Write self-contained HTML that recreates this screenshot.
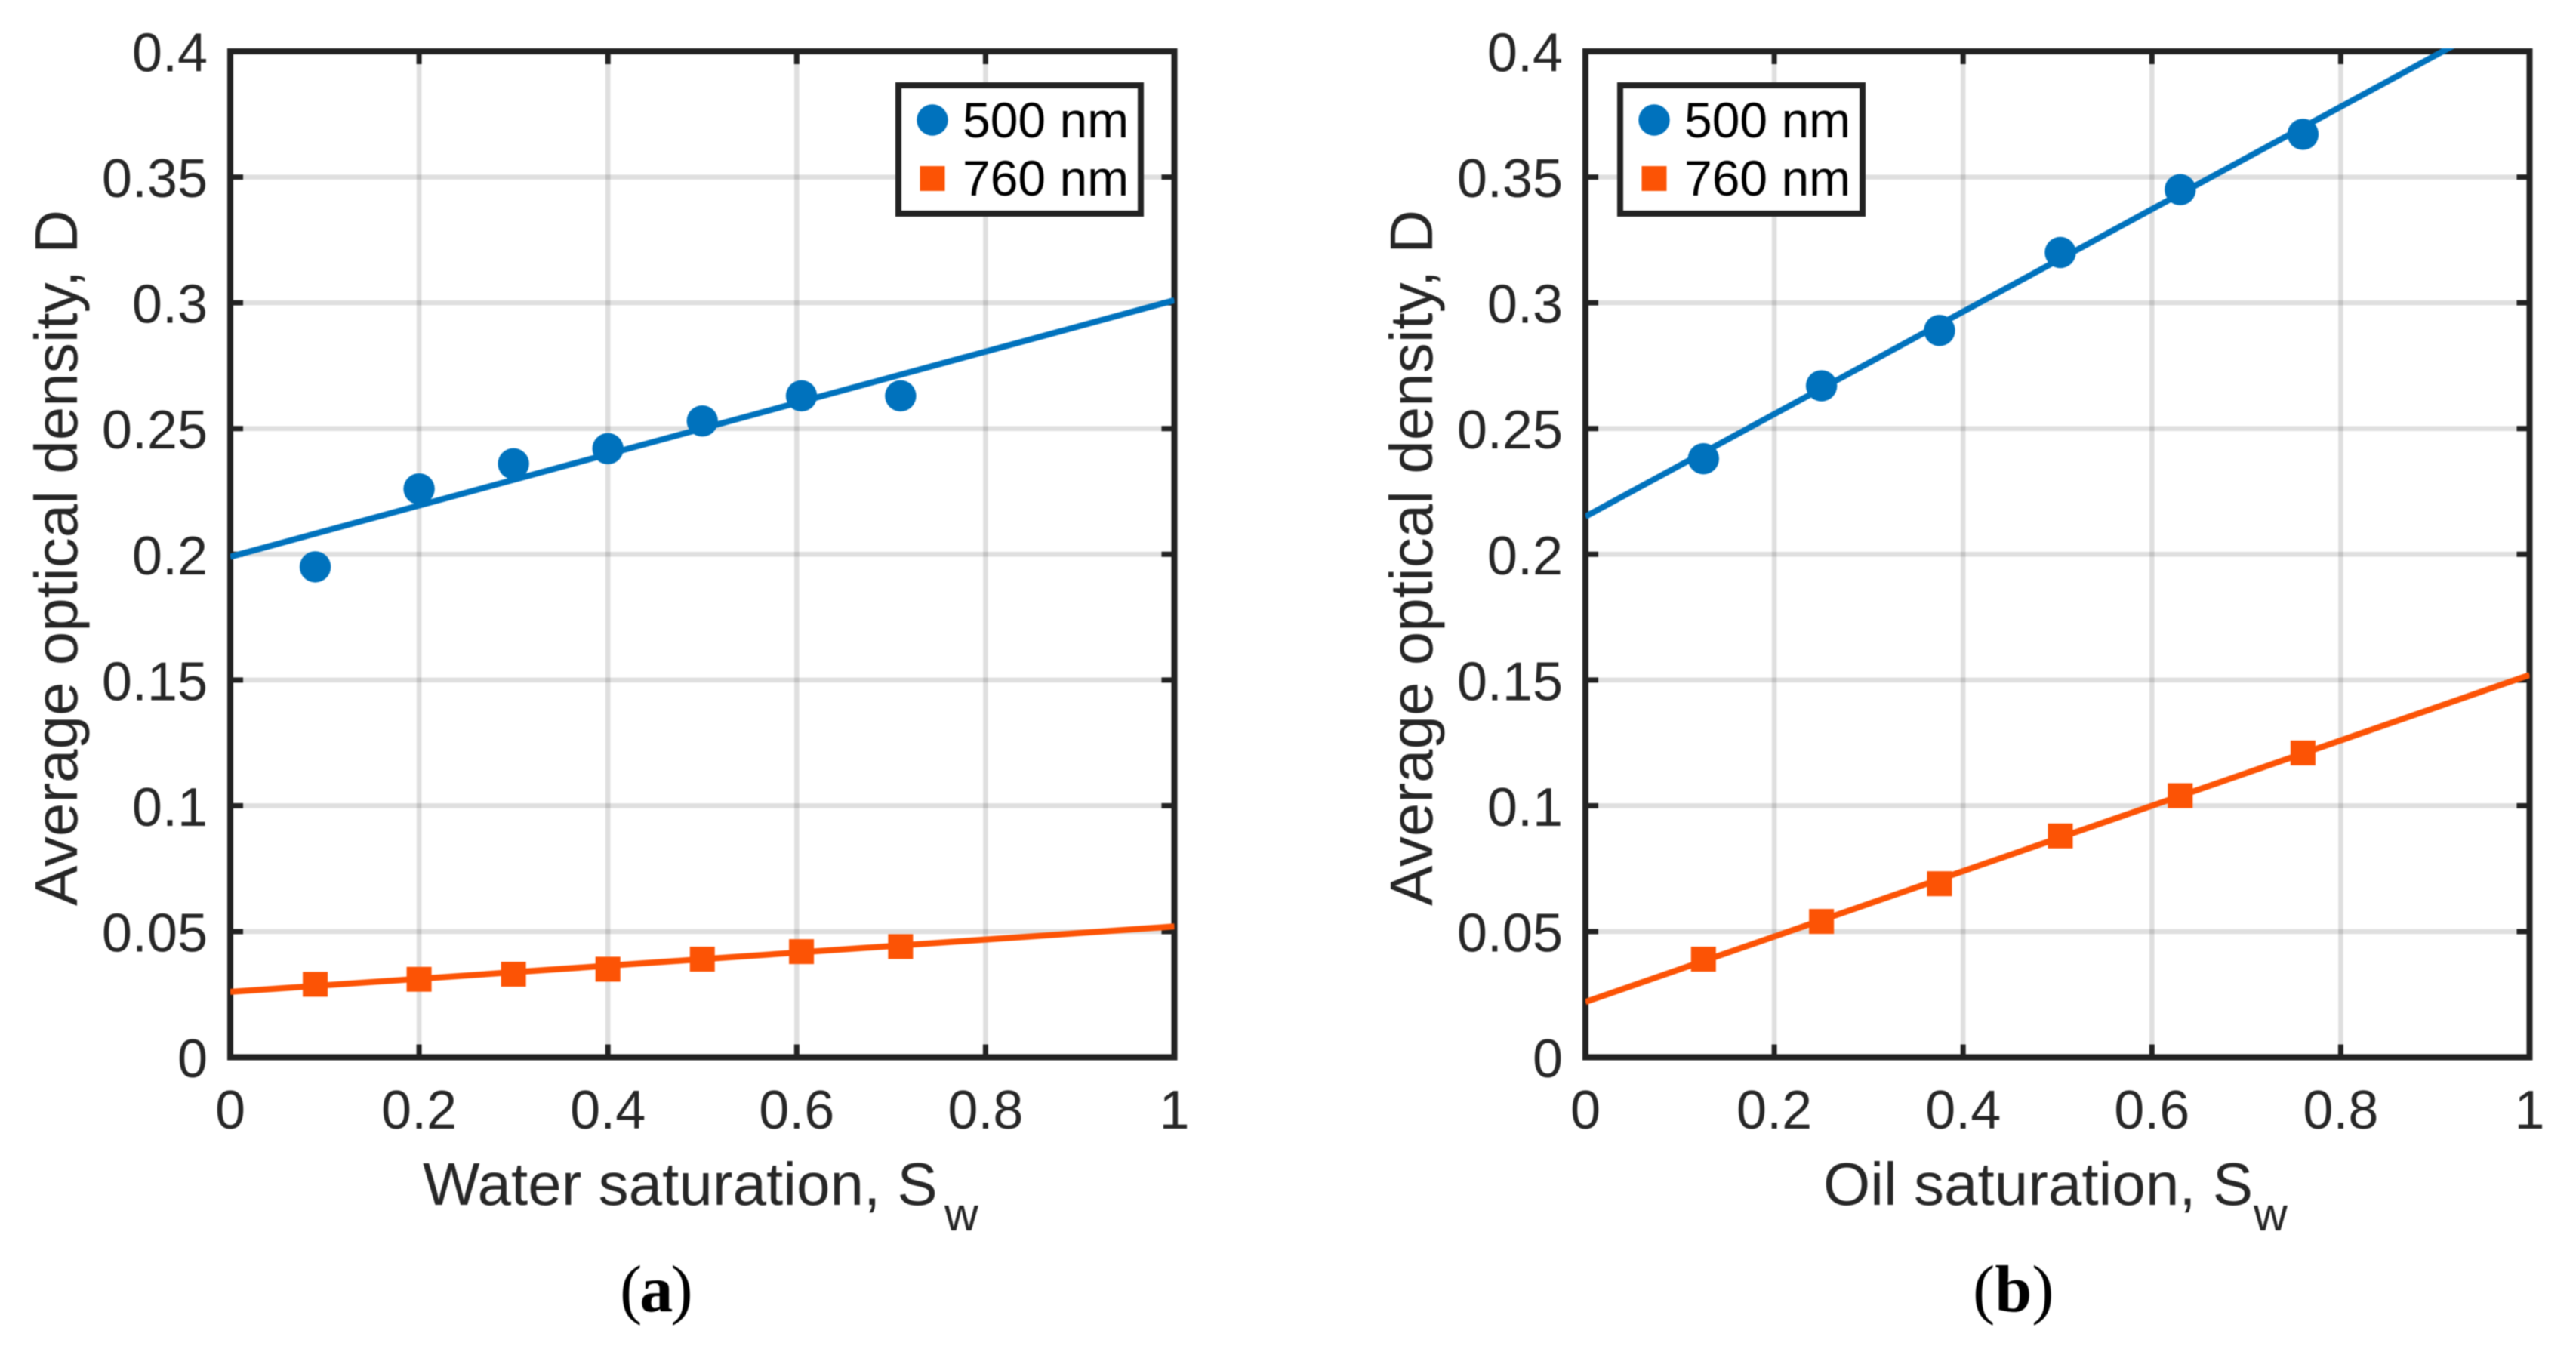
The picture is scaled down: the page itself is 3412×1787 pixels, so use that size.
<!DOCTYPE html>
<html lang="en">
<head>
<meta charset="utf-8">
<title>Average optical density vs saturation</title>
<style>
html,body{margin:0;padding:0;background:#fff;}
svg{display:block;}
text{font-family:"Liberation Sans",sans-serif;}
.tick{font-size:72px;fill:#262626;}
.axis-title{font-size:80px;fill:#262626;}
.axis-sub{font-size:62px;fill:#262626;}
.legend-text{font-size:66px;fill:#000;}
.caption{font-family:"Liberation Serif",serif;font-size:88px;fill:#000;}
.soft{filter:blur(0.7px);}
</style>
</head>
<body>
<svg id="figure" xmlns="http://www.w3.org/2000/svg" width="3412" height="1787" viewBox="0 0 3412 1787">
  <rect x="0" y="0" width="3412" height="1787" fill="#fff"/>
  <defs>
    <clipPath id="clip-a"><rect x="305" y="64" width="1250.5" height="1336.5"/></clipPath>
    <clipPath id="clip-b"><rect x="2100" y="64" width="1250.5" height="1336.5"/></clipPath>
  </defs>

  <g id="panel-a" class="soft">
    <g id="plot-a"></g>
    <text class="axis-title" transform="translate(102,1200) rotate(-90)">Average optical density, D</text>
    <text class="axis-title" x="560" y="1596">Water saturation, S</text>
    <text class="axis-sub" x="1251" y="1630">w</text>
    <g>
      <rect x="1190" y="113" width="321" height="170" fill="#fff" stroke="#222" stroke-width="8"/>
      <circle cx="1235" cy="159" r="20.7" fill="#0072BD"/>
      <text class="legend-text" x="1275" y="182">500 nm</text>
      <rect x="1218.5" y="220" width="33" height="33" fill="#FC5305"/>
      <text class="legend-text" x="1275" y="259">760 nm</text>
    </g>
    <text class="caption" letter-spacing="-3" x="821" y="1737">(<tspan font-weight="bold">a</tspan>)</text>
  </g>

  <g id="panel-b" class="soft">
    <g id="plot-b"></g>
    <text class="axis-title" transform="translate(1897,1200) rotate(-90)">Average optical density, D</text>
    <text class="axis-title" x="2415" y="1596">Oil saturation, S</text>
    <text class="axis-sub" x="2985" y="1630">w</text>
    <g transform="translate(956,0)">
      <rect x="1190" y="113" width="321" height="170" fill="#fff" stroke="#222" stroke-width="8"/>
      <circle cx="1235" cy="159" r="20.7" fill="#0072BD"/>
      <text class="legend-text" x="1275" y="182">500 nm</text>
      <rect x="1218.5" y="220" width="33" height="33" fill="#FC5305"/>
      <text class="legend-text" x="1275" y="259">760 nm</text>
    </g>
    <text class="caption" x="2613" y="1737">(<tspan font-weight="bold">b</tspan>)</text>
  </g>
</svg>

<script>
// Axis ticks
const xTickValues = [0, 0.2, 0.4, 0.6, 0.8, 1];
const xTickLabels = ['0', '0.2', '0.4', '0.6', '0.8', '1'];
const yTickValues = [0, 0.05, 0.1, 0.15, 0.2, 0.25, 0.3, 0.35, 0.4];
const yTickLabels = ['0', '0.05', '0.1', '0.15', '0.2', '0.25', '0.3', '0.35', '0.4'];

// Panel (a): water saturation
const aSaturation = [0.09, 0.2, 0.3, 0.4, 0.5, 0.605, 0.71];
const aDensity500 = [0.195, 0.226, 0.236, 0.242, 0.253, 0.263, 0.263];
const aDensity760 = [0.029, 0.031, 0.033, 0.035, 0.039, 0.042, 0.044];
const aFit500 = [0.199, 0.301];
const aFit760 = [0.026, 0.052];

// Panel (b): oil saturation
const bSaturation = [0.125, 0.25, 0.375, 0.503, 0.63, 0.76];
const bDensity500 = [0.238, 0.267, 0.289, 0.32, 0.345, 0.367];
const bDensity760 = [0.039, 0.054, 0.069, 0.088, 0.104, 0.121];
const bFit500 = [0.215, 0.4187];
const bFit760 = [0.022, 0.152];

// Fit lines span the whole x axis
const fitX = [0, 1];

const SVG_NS = 'http://www.w3.org/2000/svg';
const BLUE = '#0072BD';
const ORANGE = '#FC5305';
const AXIS = '#222';

function make(parent, tag, attrs) {
  const el = document.createElementNS(SVG_NS, tag);
  for (const k in attrs) el.setAttribute(k, attrs[k]);
  parent.appendChild(el);
  return el;
}

function drawPanel(id, left, clipId, saturation, density500, density760, fit500, fit760) {
  const g = document.getElementById('plot-' + id);
  const width = 1250.5, top = 68, bottom = 1400.5;
  const sx = v => left + v * width;
  const sy = v => bottom - (v / 0.4) * (bottom - top);
  const right = sx(1);

  // grid
  xTickValues.forEach((v, i) => {
    if (i === 0 || i === xTickValues.length - 1) return;
    const el = make(g, 'line', {x1: sx(v), x2: sx(v), y1: top, y2: bottom, stroke: '#000', 'stroke-opacity': 0.125, 'stroke-width': 6.5});
    
    
  });
  yTickValues.forEach((v, i) => {
    if (i === 0 || i === yTickValues.length - 1) return;
    const el = make(g, 'line', {x1: left, x2: right, y1: sy(v), y2: sy(v), stroke: '#000', 'stroke-opacity': 0.125, 'stroke-width': 6.5});
    
    
  });

  // axes box
  const box = make(g, 'rect', {x: left, y: top, width: width, height: bottom - top, fill: 'none', stroke: AXIS, 'stroke-width': 8});
  
  

  // ticks and tick labels
  xTickValues.forEach((v, i) => {
    if (i !== 0 && i !== xTickValues.length - 1) {
      const t1 = make(g, 'line', {x1: sx(v), x2: sx(v), y1: bottom, y2: bottom - 17, stroke: AXIS, 'stroke-width': 7});
      
      
      const t2 = make(g, 'line', {x1: sx(v), x2: sx(v), y1: top, y2: top + 17, stroke: AXIS, 'stroke-width': 7});
      
      
    }
    const label = make(g, 'text', {x: sx(v), y: 1495, 'text-anchor': 'middle', class: 'tick'});
    label.textContent = xTickLabels[i];
    
    
  });
  yTickValues.forEach((v, i) => {
    if (i !== 0 && i !== yTickValues.length - 1) {
      const t1 = make(g, 'line', {x1: left, x2: left + 17, y1: sy(v), y2: sy(v), stroke: AXIS, 'stroke-width': 7});
      
      
      const t2 = make(g, 'line', {x1: right, x2: right - 17, y1: sy(v), y2: sy(v), stroke: AXIS, 'stroke-width': 7});
      
      
    }
    const label = make(g, 'text', {x: left - 30, y: sy(v) + 26.5, 'text-anchor': 'end', class: 'tick'});
    label.textContent = yTickLabels[i];
    
    
  });

  // fit lines
  [[fit500, BLUE, '500nm'], [fit760, ORANGE, '760nm']].forEach(s => {
    const el = make(g, 'line', {x1: sx(fitX[0]), y1: sy(s[0][0]), x2: sx(fitX[1]), y2: sy(s[0][1]), stroke: s[1], 'stroke-width': 8, 'clip-path': 'url(#' + clipId + ')'});
    
    
  });

  // markers
  saturation.forEach((x, i) => {
    const c = make(g, 'circle', {cx: sx(x), cy: sy(density500[i]), r: 20.7, fill: BLUE});
    
    
    const r = make(g, 'rect', {x: sx(x) - 16.5, y: sy(density760[i]) - 16.5, width: 33, height: 33, fill: ORANGE});
    
    
  });
}

drawPanel('a', 305, 'clip-a', aSaturation, aDensity500, aDensity760, aFit500, aFit760);
drawPanel('b', 2100, 'clip-b', bSaturation, bDensity500, bDensity760, bFit500, bFit760);
</script>
</body>
</html>
